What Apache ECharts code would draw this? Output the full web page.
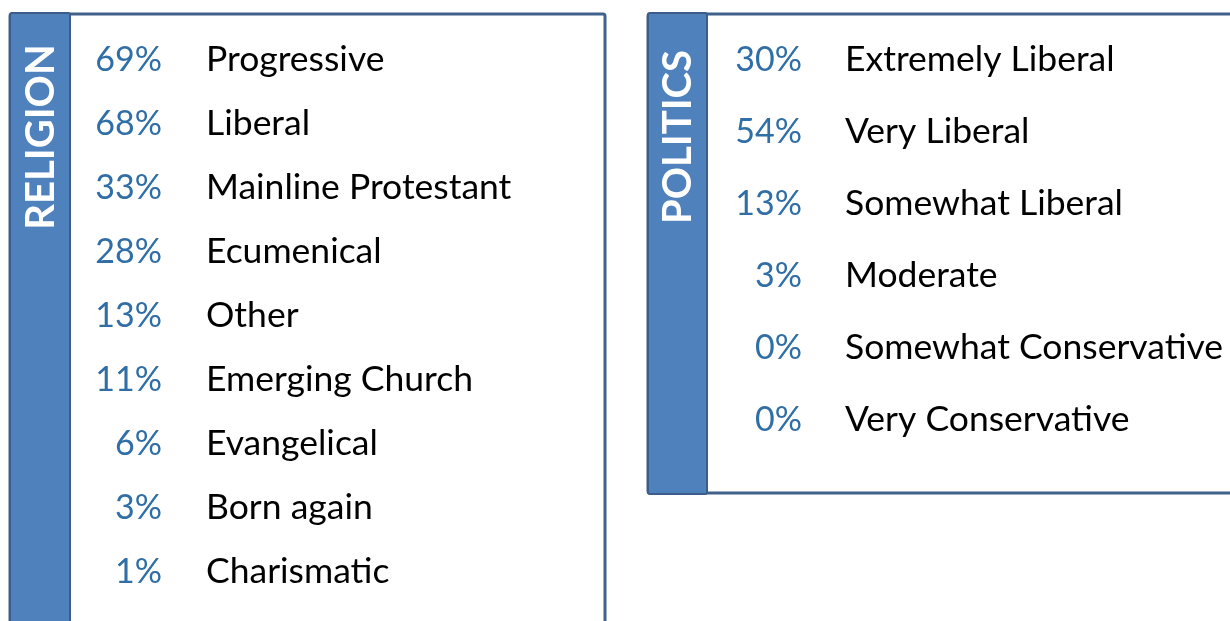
<!DOCTYPE html>
<html>
<head>
<meta charset="utf-8">
<script src="https://cdn.jsdelivr.net/npm/echarts@6/dist/echarts.min.js"></script>
<style>
  html, body { margin: 0; padding: 0; background: #fff; }
  #chart { width: 1230px; height: 621px; }
</style>
</head>
<body>
<div id="chart"></div>
<script>
var religionNames = ['Progressive', 'Liberal', 'Mainline Protestant', 'Ecumenical', 'Other',
  'Emerging Church', 'Evangelical', 'Born again', 'Charismatic'];
var religionPct = [69, 68, 33, 28, 13, 11, 6, 3, 1];

var politicsNames = ['Extremely Liberal', 'Very Liberal', 'Somewhat Liberal', 'Moderate',
  'Somewhat Conservative', 'Very Conservative'];
var politicsPct = [30, 54, 13, 3, 0, 0];

var FONT = 'Lato, "Open Sans", sans-serif';
var blue = '#4f81bd';
var edge = '#41618d';
var pctColor = '#2f6ea6';

var chart = echarts.init(document.getElementById('chart'));

function panel(x, y, w, h, sideW, title) {
  return [
    { type: 'rect', z: 0, shape: { x: x, y: y, width: w, height: h, r: 2 },
      style: { fill: '#fff', stroke: edge, lineWidth: 3 } },
    { type: 'rect', z: 1, shape: { x: x, y: y - 1, width: sideW, height: h + 2, r: 2 },
      style: { fill: blue, stroke: '#3c5d89', lineWidth: 2 } },
    { type: 'text', z: 2, x: x + sideW / 2 + 1, y: title.cy, rotation: Math.PI / 2,
      style: { text: title.text, fill: '#fff', font: 'bold 40px ' + FONT,
        align: 'center', verticalAlign: 'middle' } }
  ];
}

function pctSeries(pcts, gi, xPos) {
  return {
    type: 'scatter', xAxisIndex: gi, yAxisIndex: gi, symbolSize: 0, silent: true,
    itemStyle: { opacity: 1 },
    data: pcts.map(function (v, i) { return [xPos, i, v]; }),
    label: { show: true, position: 'left', distance: 0, color: pctColor, opacity: 1,
      fontFamily: FONT, fontSize: 34,
      formatter: function (p) { return p.value[2] + '%'; } }
  };
}

function nameSeries(names, gi, xPos) {
  return {
    type: 'scatter', xAxisIndex: gi, yAxisIndex: gi, symbolSize: 0, silent: true,
    itemStyle: { opacity: 1 },
    data: names.map(function (n, i) { return [xPos, i, n]; }),
    label: { show: true, position: 'right', distance: 0, color: '#000', opacity: 1,
      fontFamily: FONT, fontSize: 35.5,
      formatter: function (p) { return p.value[2]; } }
  };
}

chart.setOption({
  animation: false,
  backgroundColor: '#fff',
  graphic: panel(10, 14, 595, 640, 60, { text: 'RELIGION', cy: 137 })
    .concat(panel(648, 14, 620, 479, 59, { text: 'POLITICS', cy: 137 })),
  grid: [
    { left: 0, top: 28, width: 1230, height: 576 },
    { left: 0, top: 24, width: 1230, height: 432 }
  ],
  xAxis: [
    { type: 'value', gridIndex: 0, min: 0, max: 1230, show: false },
    { type: 'value', gridIndex: 1, min: 0, max: 1230, show: false }
  ],
  yAxis: [
    { type: 'category', gridIndex: 0, inverse: true, data: religionNames, show: false },
    { type: 'category', gridIndex: 1, inverse: true, data: politicsNames, show: false }
  ],
  series: [
    pctSeries(religionPct, 0, 162),
    nameSeries(religionNames, 0, 206),
    pctSeries(politicsPct, 1, 802),
    nameSeries(politicsNames, 1, 845)
  ]
});
</script>
</body>
</html>
